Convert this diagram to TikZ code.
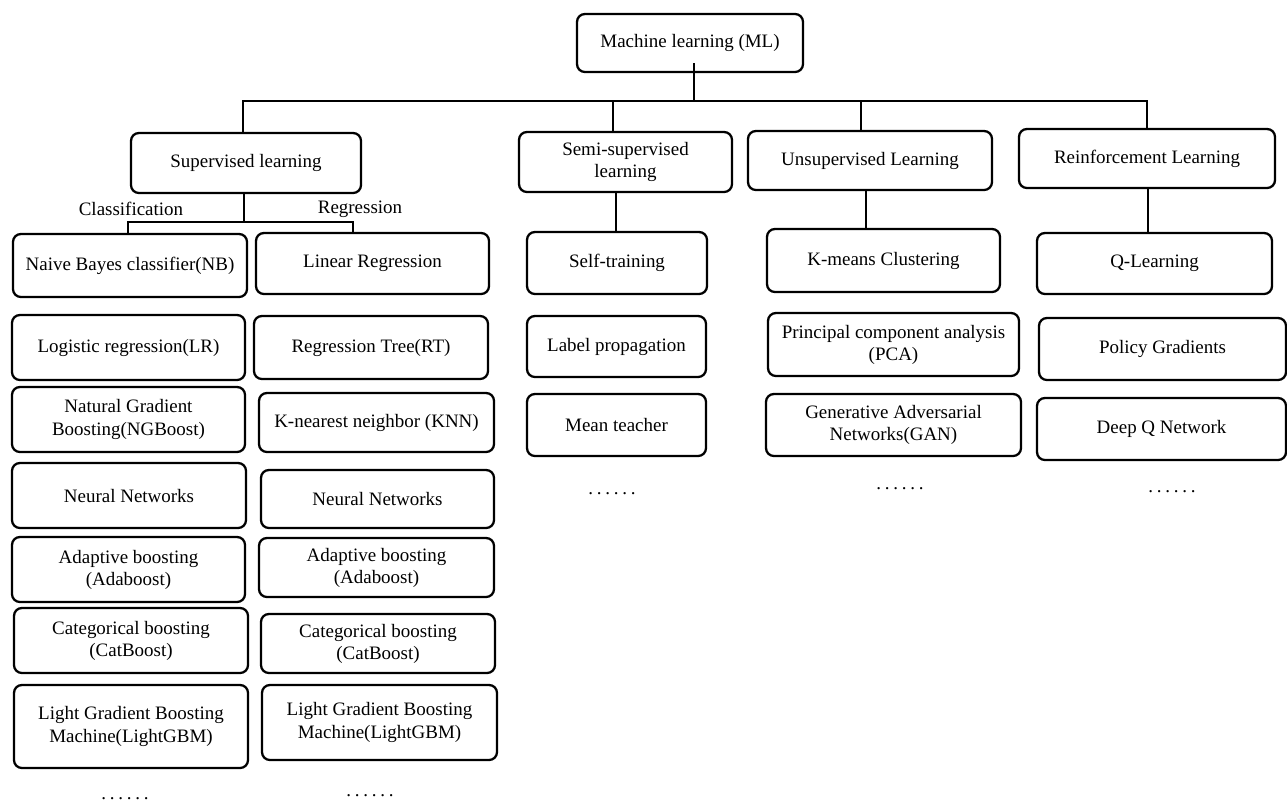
\documentclass[tikz,border=0pt]{standalone}
\usepackage{fontspec}
\setmainfont{Liberation Serif}
\usetikzlibrary{calc}
\newcommand{\myfs}{\fontsize{10.8}{12.6}\selectfont}
\newcommand{\mydots}{.\hspace{0.2em}.\hspace{0.2em}.\hspace{0.2em}.\hspace{0.2em}.\hspace{0.2em}.}
\newcommand{\bx}[6]{\node[box, minimum width={(#4-#2)*0.02cm}, minimum height={(#5-#3)*0.02cm}] (#1) at ({(#2+#4)/2},{(#3+#5)/2}) {#6};}
\begin{document}
\begin{tikzpicture}[x=0.02cm,y=-0.02cm,
  box/.style={draw, rounded corners=4.5pt, line width=1.3pt, inner sep=0pt, align=center, font=\myfs},
  conn/.style={line width=1.2pt},
  lbl/.style={font=\myfs, inner sep=0pt, anchor=base}]
\useasboundingbox (0,0) rectangle (1287,802);
% top levels
\bx{ml}{577}{14}{803}{72}{Machine learning (ML)}
\bx{sup}{131}{133}{361}{193}{Supervised learning}
\bx{semi}{519}{132}{732}{192}{Semi-supervised\\learning}
\bx{uns}{748}{131}{992}{190}{Unsupervised Learning}
\bx{rl}{1019}{129}{1275}{188}{Reinforcement Learning}
% second level
\bx{nb}{13}{234}{247}{297}{Naive Bayes classifier(NB)}
\bx{lr}{256}{233}{489}{294}{Linear Regression}
\bx{st}{527}{232}{707}{294}{Self-training}
\bx{km}{767}{229}{1000}{292}{K-means Clustering}
\bx{ql}{1037}{233}{1272}{294}{Q-Learning}
% classification column
\bx{logr}{12}{315}{245}{380}{Logistic regression(LR)}
\bx{ngb}{12}{387}{245}{452}{Natural Gradient\\Boosting(NGBoost)}
\bx{nna}{12}{463}{246}{528}{Neural Networks}
\bx{adaa}{12}{537}{245}{602}{Adaptive boosting\\(Adaboost)}
\bx{cata}{14}{608}{248}{673}{Categorical boosting\\(CatBoost)}
\bx{lgba}{14}{685}{248}{768}{Light Gradient Boosting\\Machine(LightGBM)}
% regression column
\bx{rt}{254}{316}{488}{379}{Regression Tree(RT)}
\bx{knn}{259}{393}{494}{452}{K-nearest neighbor (KNN)}
\bx{nnb}{261}{470}{494}{528}{Neural Networks}
\bx{adab}{259}{538}{494}{597}{Adaptive boosting\\(Adaboost)}
\bx{catb}{261}{614}{495}{673}{Categorical boosting\\(CatBoost)}
\bx{lgbb}{262}{685}{497}{760}{Light Gradient Boosting\\Machine(LightGBM)}
% semi column
\bx{lp}{527}{316}{706}{377}{Label propagation}
\bx{mt}{527}{394}{706}{456}{Mean teacher}
% unsupervised column
\bx{pca}{768}{313}{1019}{376}{Principal component analysis\\(PCA)}
\bx{gan}{766}{394}{1021}{456}{Generative Adversarial\\Networks(GAN)}
% reinforcement column
\bx{pg}{1039}{318}{1286}{380}{Policy Gradients}
\bx{dq}{1037}{398}{1286}{460}{Deep Q Network}
% connectors
\coordinate (busy) at (0,101);
\coordinate (mlx) at (694,0);
\draw[conn] ($(mlx |- ml.south)+(0,-10)$) -- (mlx |- busy);
\coordinate (x1) at (243,101);
\coordinate (x2) at (613,101);
\coordinate (x3) at (861,101);
\coordinate (x4) at (1147,101);
\draw[conn] (x1 |- sup.north) -- (x1) -- (x4) -- (x4 |- rl.north);
\draw[conn] (x2) -- (x2 |- semi.north);
\draw[conn] (x3) -- (x3 |- uns.north);
\coordinate (sj) at (244,222);
\coordinate (cl) at (128,222);
\coordinate (rg) at (353,222);
\draw[conn] (sj |- sup.south) -- (sj);
\draw[conn] (cl |- nb.north) -- (cl) -- (rg) -- (rg |- lr.north);
\coordinate (sx) at (616,0);
\draw[conn] (sx |- semi.south) -- (sx |- st.north);
\coordinate (ux) at (866,0);
\draw[conn] (ux |- uns.south) -- (ux |- km.north);
\coordinate (rx) at (1148,0);
\draw[conn] (rx |- rl.south) -- (rx |- ql.north);
% labels
\node[lbl] (cls) at (131,215) {Classification};
\node[lbl] (reg) at (360,213) {Regression};
% dots
\node[lbl] (d1) at (125,799) {\mydots};
\node[lbl] (d2) at (370,796) {\mydots};
\node[lbl] (d3) at (612,494) {\mydots};
\node[lbl] (d4) at (900,489) {\mydots};
\node[lbl] (d5) at (1172,492) {\mydots};
\end{tikzpicture}
\end{document}
